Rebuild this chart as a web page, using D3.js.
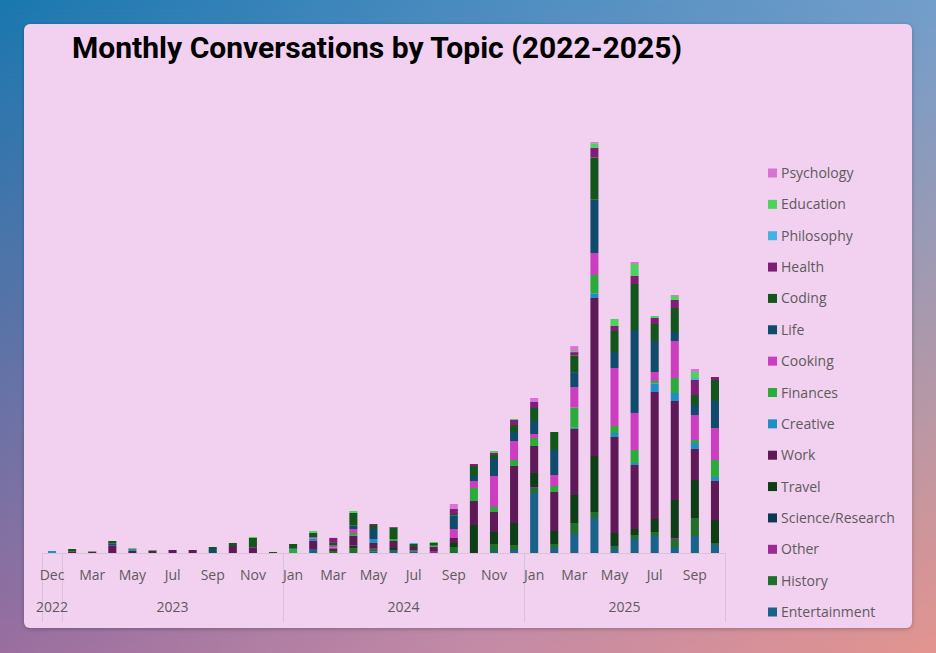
<!DOCTYPE html>
<html>
<head>
<meta charset="utf-8">
<script src="https://cdn.jsdelivr.net/npm/d3@7"></script>
<style>
  html, body { margin: 0; padding: 0; width: 936px; height: 653px; overflow: hidden; }
  svg { display: block; }
</style>
</head>
<body>
<svg id="chart" width="936" height="653"></svg>
<script>
// ---- Data ----
const months = ["Dec","Feb","Mar","Apr","May","Jun","Jul","Aug","Sep","Oct","Nov","Dec",
                "Jan","Feb","Mar","Apr","May","Jun","Jul","Aug","Sep","Oct","Nov","Dec",
                "Jan","Feb","Mar","Apr","May","Jun","Jul","Aug","Sep","Oct"];
const years = ["2022","2023","2023","2023","2023","2023","2023","2023","2023","2023","2023","2023",
               "2024","2024","2024","2024","2024","2024","2024","2024","2024","2024","2024","2024",
               "2025","2025","2025","2025","2025","2025","2025","2025","2025","2025"];

const psychology    = [0,0,0,0,0,0,0,0,0,0,0,0, 0,0,0,0,0,0,0,0,5,0,0,0, 4,0,5,1.3,0,2,0,1,3,0];
const education     = [0,0,0.5,0,0.7,0,0,0,0,0,1,0, 0,1.7,0,2,0,0,0,1,0,0,2,1, 0,0,1,4.3,7,12,2,4,6,0];
const philosophy    = [0,0,0,0,0,0,0,0,0,0,0,0, 0,0,0,0,0,0,1,0,0,0,0,0, 0,0,0,0,0,0,0,0,2,0];
const health        = [0,0,0,0,0,0,0,0,0,0,0,0, 0,0,5,0,1,0.7,0,0,5,2,2,5, 6,0,3.3,9.7,5,8,6,8,15,3];
const coding        = [0,2.7,0,2.3,0.8,0,0,0,2,3,9.3,1, 4.3,4.7,2.7,12.7,4,11.3,3,2.7,1.7,10,4,7, 13,18,16.7,42.3,21,46,17,24,10,21];
const life          = [0,0,0,2,0,0,0,0,4,0,0,0, 0.7,0,0,3.3,10,0,0,0,13.3,5,17,9, 13,25,15,53.3,16,83,31,9,10,27];
const cooking       = [0,0,0,0,0,0,0,0,0,0,0,0, 0,1.3,2,4,0,0,0,0,9,7,31,19, 4,11,20.3,22,58,37,9,37,25,32];
const finances      = [0,0,0,0,0,0.7,0,0,0,0,0,0, 4,0,0.7,2.7,0,2,0,1,0,13,5,6, 8,6,20.3,18.3,7,13,2.5,15,3,17];
const creative      = [2,0,0,0,1.5,0,0,0,0,0,0,0, 0,2.3,0,0,4,0,0,0,0,0,0,0, 0,0,1.3,4.7,4,2,8.5,8,6,4];
const work          = [0,1.3,1.5,7.7,2,2.3,3,3,0,7,5.7,0, 0,8,2.7,10,5.3,7,3.3,5,5,24,20,57, 27,39,66,158,96,64,127,99,31,39];
const travel        = [0,0,0,0,0,0,0,0,0,0,0,0, 0,0,0,3,1.3,2.7,0,0,4,28,12,22, 14,13,28,56,12,6,13,38,38,23];
const science       = [0,0,0,0,0,0,0,0,0,0,0,0, 0,0,0,0,0,0,0,0,0,0,0,0, 0,0,0,0,1,0,0,0,0,0];
const other         = [0,0,0,0,0,0,0,0,0,0,0,0, 0,0,0,0,0,0,0,1.3,0,0,0,0, 1,0,0,0,0,0,0,1,0,0];
const history       = [0,0,0,0,0,0,0,0,0,0,0,0, 0,0,2,4.3,1.7,0,1,0,6,0,7,5, 5,4,11,6,3,4,4,9,18,2];
const entertainment = [0,0,0,0,0,0,0,0,0,0,0,0, 0,4,0,0,1.7,2.3,1.7,0,0,0,2,3, 60,5,19,35,4,14,17,5,17,8];

// legend order (top to bottom)
const topics = ["Psychology","Education","Philosophy","Health","Coding","Life","Cooking","Finances",
                "Creative","Work","Travel","Science/Research","Other","History","Entertainment"];
const colors = ["#da72d4","#4dd25c","#42b2e2","#7e1f75","#13561b","#0f4c6b","#cb3ec0","#2aab3b",
                "#1f8ec6","#5d1a56","#0d3f17","#0e3954","#9c2a96","#1d6f2b","#19628a"];
const seriesValues = [psychology, education, philosophy, health, coding, life, cooking, finances,
                      creative, work, travel, science, other, history, entertainment];

// ---- Build table ----
const table = months.map((m, i) => {
  const row = { idx: i };
  topics.forEach((t, k) => row[t] = seriesValues[k][i]);
  return row;
});
const stackKeys = topics.slice().reverse(); // bottom -> top
const colorOf = d3.scaleOrdinal().domain(topics).range(colors);

const svg = d3.select("#chart");
const W = 936, H = 653;

// ---- Background ----
const defs = svg.append("defs");
const gTop = defs.append("linearGradient").attr("id","gTop").attr("x1","0").attr("x2","1").attr("y1","0").attr("y2","0");
gTop.append("stop").attr("offset","0").attr("stop-color","#1a78b0");
gTop.append("stop").attr("offset","0.5").attr("stop-color","#4a8cc0");
gTop.append("stop").attr("offset","1").attr("stop-color","#729ecb");
const gBot = defs.append("linearGradient").attr("id","gBot").attr("x1","0").attr("x2","1").attr("y1","0").attr("y2","0");
gBot.append("stop").attr("offset","0").attr("stop-color","#9a6e9f");
gBot.append("stop").attr("offset","0.5").attr("stop-color","#c48aa6");
gBot.append("stop").attr("offset","1").attr("stop-color","#e3948f");
const gMask = defs.append("linearGradient").attr("id","gMask").attr("x1","0").attr("x2","0").attr("y1","0").attr("y2","1");
gMask.append("stop").attr("offset","0").attr("stop-color","#fff").attr("stop-opacity",0);
gMask.append("stop").attr("offset","1").attr("stop-color","#fff").attr("stop-opacity",1);
defs.append("mask").attr("id","mBot").append("rect").attr("width",W).attr("height",H).attr("fill","url(#gMask)");
const shadow = defs.append("filter").attr("id","shadow").attr("x","-5%").attr("y","-5%").attr("width","110%").attr("height","110%");
shadow.append("feDropShadow").attr("dx",0).attr("dy",1).attr("stdDeviation",2).attr("flood-color","#000").attr("flood-opacity",0.25);

svg.append("rect").attr("width",W).attr("height",H).attr("fill","url(#gTop)");
svg.append("rect").attr("width",W).attr("height",H).attr("fill","url(#gBot)").attr("mask","url(#mBot)");

// Card
svg.append("rect").attr("x",24).attr("y",24).attr("width",888).attr("height",604)
  .attr("rx",6).attr("ry",6).attr("fill","#f2d0ef").attr("filter","url(#shadow)");

// Title
svg.append("text").attr("x",72).attr("y",58)
  .attr("font-family","Roboto, 'Noto Sans', sans-serif").attr("font-weight",700)
  .attr("font-size",30).attr("fill","#000")
  .attr("textLength",610).attr("lengthAdjust","spacingAndGlyphs")
  .text("Monthly Conversations by Topic (2022-2025)");

// ---- Scales ----
const x = d3.scaleBand().domain(d3.range(months.length)).range([42, 725]).padding(0);
const y = d3.scaleLinear().domain([0, 411]).range([553, 142]);

const stacked = d3.stack().keys(stackKeys)(table);

const barW = x.bandwidth() * 0.4;
svg.append("g").selectAll("g").data(stacked).join("g")
  .attr("fill", d => colorOf(d.key))
  .selectAll("rect").data(d => d.filter(s => s[1] - s[0] > 0)).join("rect")
  .attr("x", d => x(d.data.idx) + (x.bandwidth() - barW) / 2)
  .attr("width", barW)
  .attr("y", d => y(d[1]))
  .attr("height", d => y(d[0]) - y(d[1]));

// ---- Axis ----
const axisG = svg.append("g").attr("stroke","#d8c4d6").attr("stroke-width",1);
axisG.append("line").attr("x1",x.range()[0]).attr("x2",x.range()[1]).attr("y1",553.5).attr("y2",553.5);
// year group boundaries
const yearList = Array.from(new Set(years));
const bounds = [0];
yearList.forEach(yr => { bounds.push(years.lastIndexOf(yr) + 1); });
bounds.forEach(b => {
  const bx = Math.round(b < months.length ? x(b) : x.range()[1]) + 0.5;
  axisG.append("line").attr("x1",bx).attr("x2",bx).attr("y1",553).attr("y2",622);
});

const labelFont = "'Open Sans', 'Noto Sans', sans-serif";
// month labels every other category
svg.append("g").selectAll("text").data(months.map((m,i)=>({m,i})).filter(d => d.i % 2 === 0)).join("text")
  .attr("x", d => x(d.i) + x.bandwidth()/2)
  .attr("y", 580)
  .attr("text-anchor","middle")
  .attr("font-family", labelFont).attr("font-size", 14).attr("fill","#5e5a5e")
  .text(d => d.m);

// year labels
svg.append("g").selectAll("text").data(yearList).join("text")
  .attr("x", yr => {
    const a = years.indexOf(yr), b = years.lastIndexOf(yr);
    return (x(a) + x(b) + x.bandwidth()) / 2;
  })
  .attr("y", 612)
  .attr("text-anchor","middle")
  .attr("font-family", labelFont).attr("font-size", 14).attr("fill","#5e5a5e")
  .text(yr => yr);

// ---- Legend ----
const legend = svg.append("g");
const ly = d3.scalePoint().domain(topics).range([173, 612]);
const item = legend.selectAll("g").data(topics).join("g")
  .attr("transform", t => `translate(768, ${ly(t)})`);
item.append("rect").attr("x",0).attr("y",-4.5).attr("width",9).attr("height",9).attr("fill", t => colorOf(t));
item.append("text").attr("x",13).attr("y",5)
  .attr("font-family", labelFont).attr("font-size", 14).attr("fill","#5e5a5e")
  .text(t => t);
</script>
</body>
</html>
